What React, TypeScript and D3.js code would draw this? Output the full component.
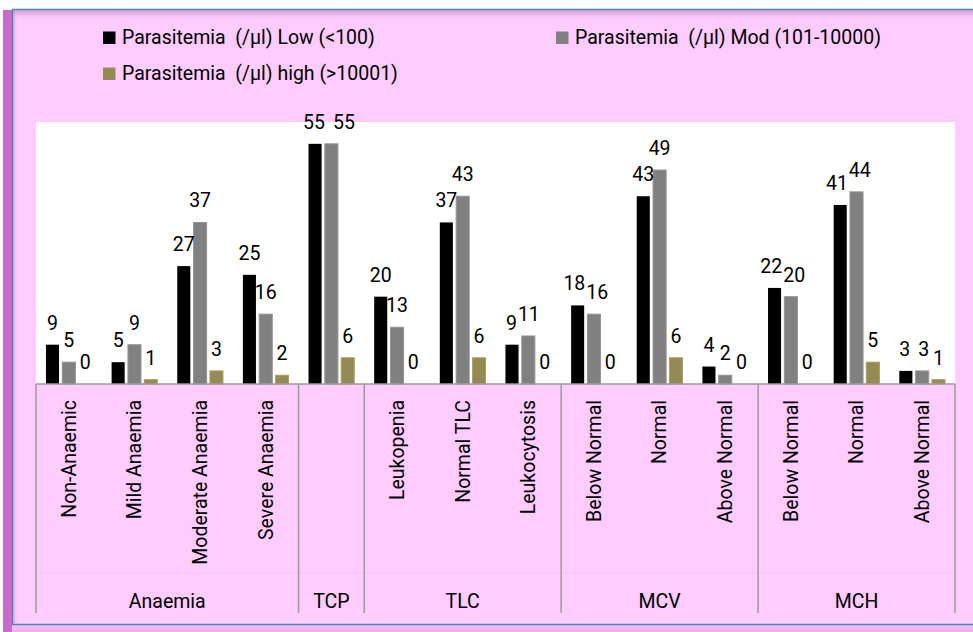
import * as d3 from "d3";

const categories = [
  "Non-Anaemic", "Mild Anaemia", "Moderate Anaemia", "Severe Anaemia",
  "",
  "Leukopenia", "Normal TLC", "Leukocytosis",
  "Below Normal", "Normal", "Above Normal",
  "Below Normal", "Normal", "Above Normal",
];
const groups = ["Anaemia", "TCP", "TLC", "MCV", "MCH"];
const groupSizes = [4, 1, 3, 3, 3];

const seriesNames = [
  "Parasitemia  (/µl) Low (<100)",
  "Parasitemia  (/µl) Mod (101-10000)",
  "Parasitemia  (/µl) high (>10001)",
];
const lowValues = [9, 5, 27, 25, 55, 20, 37, 9, 18, 43, 4, 22, 41, 3];
const modValues = [5, 9, 37, 16, 55, 13, 43, 11, 16, 49, 2, 20, 44, 3];
const highValues = [0, 1, 3, 2, 6, 0, 6, 0, 0, 6, 0, 0, 5, 1];
const colors = ["#000000", "#808080", "#948A54"];

const W = 973;
const H = 632;
const pink = "#FFCCFF";
const font = "Roboto, 'Open Sans', sans-serif";
const fs = 19.5;

export default function App() {
  const series = [lowValues, modValues, highValues];
  const idx = categories.map((_, i) => String(i));
  const left = 36, right = 955, top = 122, base = 384;

  const x0 = d3.scaleBand().domain(idx).range([left, right]);
  const x1 = d3
    .scaleBand()
    .domain(["0", "1", "2"])
    .range([0, x0.bandwidth()])
    .paddingInner(0.2)
    .paddingOuter(0.61);
  const y = d3.scaleLinear().domain([0, 60]).range([base, top]);

  // group boundaries
  const starts = groupSizes.map((_, g) => d3.sum(groupSizes.slice(0, g)));
  const bounds = [...starts.map((s) => x0(String(s))!), right];

  // value label positions, nudging colliding neighbours apart
  const digitW = fs * 0.56;
  const labelPos = idx.map((_, i) => {
    const pos = series.map((vals, s) => ({
      x: x1(String(s))! + x1.bandwidth() / 2,
      y: y(vals[i]) - 15,
      w: String(vals[i]).length * digitW,
    }));
    for (let s = 1; s < pos.length; s++) {
      const a = pos[s - 1], b = pos[s];
      const dy = Math.abs(a.y - b.y);
      if (dy < 4) {
        const need = a.x + a.w / 2 + 8 - (b.x - b.w / 2);
        if (need > 0) {
          a.x -= 1;
          b.x += need - 1;
        }
      } else if (dy < 15) {
        const need = a.x + a.w / 2 + 1 - (b.x - b.w / 2);
        if (need > 0) {
          a.x -= need / 2;
          b.x += need / 2;
        }
      }
    }
    return pos;
  });

  return (
    <svg width={W} height={H} style={{ position: "absolute", left: 0, top: 0 }} fontFamily={font}>
      <defs>
        <linearGradient id="shTop" x1="0" y1="0" x2="0" y2="1">
          <stop offset="0" stopColor="#a07aa0" stopOpacity={0.55} />
          <stop offset="1" stopColor={pink} stopOpacity={0} />
        </linearGradient>
        <linearGradient id="shLeft" x1="0" y1="0" x2="1" y2="0">
          <stop offset="0" stopColor="#a07aa0" stopOpacity={0.4} />
          <stop offset="1" stopColor={pink} stopOpacity={0} />
        </linearGradient>
        <linearGradient id="outLeft" x1="0" y1="0" x2="1" y2="0">
          <stop offset="0" stopColor="#c868c8" />
          <stop offset="0.15" stopColor="#eeaaee" />
          <stop offset="1" stopColor="#fcc6fc" />
        </linearGradient>
        <linearGradient id="outBottom" x1="0" y1="0" x2="0" y2="1">
          <stop offset="0" stopColor="#f6c0f6" />
          <stop offset="1" stopColor="#e8b0e8" />
        </linearGradient>
      </defs>

      {/* frame */}
      <rect x={3} y={10} width={W - 3} height={H - 10} fill="url(#outLeft)" />
      <rect x={12} y={625} width={W - 12} height={7} fill="url(#outBottom)" />
      <rect x={12.5} y={9.5} width={W} height={615} fill={pink} stroke="#4F81BD" strokeWidth={1.5} />
      <rect x={13.3} y={10.3} width={W} height={11} fill="url(#shTop)" />
      <rect x={13.3} y={10.3} width={5} height={613} fill="url(#shLeft)" />

      {/* legend */}
      {[
        { x: 103, y: 44 },
        { x: 556, y: 44 },
        { x: 103, y: 80 },
      ].map((p, i) => (
        <g key={`lg-${i}`}>
          <rect x={p.x} y={p.y - 12.5} width={12.5} height={12.5} fill={colors[i]} />
          <text x={p.x + 19} y={p.y} fontSize={fs} fill="#000" style={{ whiteSpace: "pre" }}>
            {seriesNames[i]}
          </text>
        </g>
      ))}

      {/* plot area */}
      <rect x={left} y={top} width={right - left} height={base - top} fill="#fff" />

      {idx.map((c, i) => (
        <g key={`cat-${c}`} transform={`translate(${x0(c)},0)`}>
          {series.map((vals, s) => (
            <rect
              key={`bar-${c}-${s}`}
              x={x1(String(s))}
              y={y(vals[i])}
              width={x1.bandwidth()}
              height={base - y(vals[i])}
              fill={colors[s]}
              stroke={s === 0 ? "none" : d3.color(colors[s])!.brighter(0.4).toString()}
              strokeWidth={1}
            />
          ))}
          {series.map((vals, s) => (
            <text
              key={`lbl-${c}-${s}`}
              x={labelPos[i][s].x}
              y={labelPos[i][s].y}
              textAnchor="middle"
              fontSize={fs}
              fill="#000"
            >
              {vals[i]}
            </text>
          ))}
          <text
            transform={`translate(${x0.bandwidth() / 2},400) rotate(-90)`}
            textAnchor="end"
            dy="0.35em"
            fontSize={fs}
            fill="#000"
          >
            {categories[i]}
          </text>
        </g>
      ))}

      {/* axis lines */}
      <line x1={left} x2={right} y1={base} y2={base} stroke="#9a9a9a" strokeWidth={1.5} />
      <line x1={left} x2={right} y1={573} y2={573} stroke="#f4c4f4" strokeWidth={1} />
      {bounds.map((b, i) => (
        <line key={`sep-${i}`} x1={b} x2={b} y1={base} y2={613} stroke="#9a9a9a" strokeWidth={1.5} />
      ))}
      {groups.map((g, i) => (
        <text
          key={`grp-${g}`}
          x={(bounds[i] + bounds[i + 1]) / 2}
          y={608}
          textAnchor="middle"
          fontSize={fs}
          fill="#000"
        >
          {g}
        </text>
      ))}
    </svg>
  );
}
